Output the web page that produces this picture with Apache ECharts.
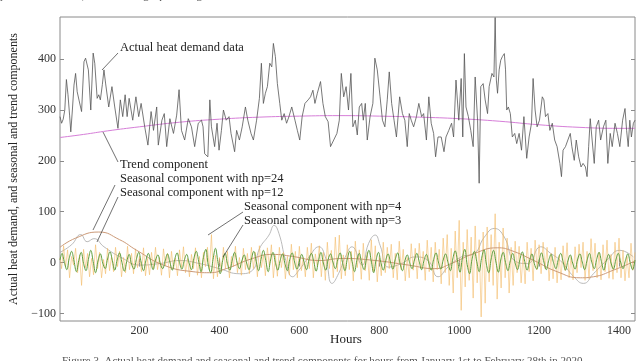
<!DOCTYPE html>
<html>
<head>
<meta charset="utf-8">
<script src="https://cdn.jsdelivr.net/npm/echarts@6/dist/echarts.min.js"></script>
<style>
  html, body { margin: 0; padding: 0; background: #fff; }
  #chart { width: 640px; height: 361px; }
</style>
</head>
<body>
<div id="chart"></div>
<script>
// ticks
var xTicks = [200, 400, 600, 800, 1000, 1200, 1400];
var yTicks = [-100, 0, 100, 200, 300, 400];

// actual heat demand (hour, value)
var demandHours = [1,5,9,13,17,21,25,28,32,36,40,44,49,55,61,65,72,78,84,88,94,98,102,107,111,115,123,131,138,146,152,158,164,169,174,183,191,198,204,213,221,229,235,243,247,256,262,268,276,285,293,299,305,313,322,330,338,347,355,359,363,371,376,380,388,394,399,405,410,417,424,429,438,443,450,457,465,471,479,485,493,500,505,510,515,520,526,531,535,540,545,551,556,562,568,574,581,589,595,601,607,614,622,628,634,639,645,653,659,665,672,678,686,694,700,705,711,717,723,729,734,740,745,750,756,760,765,770,777,784,789,795,802,808,814,820,825,831,837,843,851,858,864,870,875,880,886,893,899,906,911,918,924,930,936,941,947,955,962,967,974,981,986,992,999,1005,1009,1013,1017,1023,1029,1035,1040,1046,1050,1054,1060,1065,1071,1075,1082,1087,1090,1093,1096,1100,1104,1108,1113,1116,1119,1123,1128,1133,1139,1144,1150,1156,1162,1169,1175,1181,1185,1190,1195,1201,1208,1212,1216,1222,1227,1233,1239,1245,1252,1256,1260,1266,1272,1278,1282,1288,1293,1299,1305,1310,1316,1320,1324,1328,1332,1338,1343,1349,1354,1361,1367,1372,1378,1383,1390,1396,1402,1409,1415,1419,1423,1427,1431,1436,1440];
var demandValues = [287,274,282,300,360,330,290,257,300,349,372,336,318,297,395,402,379,300,412,392,323,330,320,350,379,353,306,346,306,264,320,287,330,287,323,280,326,287,313,267,231,297,260,306,231,280,293,228,283,254,290,340,260,241,283,267,228,274,280,267,214,208,320,267,228,274,221,260,300,280,287,254,218,260,241,267,306,280,254,241,280,323,392,313,333,346,392,385,431,405,352,313,280,293,274,287,306,280,260,241,287,313,320,326,339,313,333,356,313,287,277,228,241,254,280,372,326,346,300,372,267,280,251,306,313,280,313,241,287,313,402,379,326,280,267,320,375,313,280,247,326,293,280,228,293,280,267,287,313,287,293,241,326,274,254,208,247,247,218,247,260,274,247,359,280,362,247,411,306,287,260,228,365,280,156,346,352,320,293,346,372,365,482,359,333,379,398,405,411,379,300,306,293,247,254,234,254,221,287,205,247,274,362,300,267,280,326,320,287,293,260,274,241,228,195,169,221,228,241,254,228,201,241,208,188,195,188,169,228,283,247,195,267,280,241,267,280,195,254,228,274,254,228,280,303,260,228,280,247,274,280];

// trend component
var trendHours = [1,60,120,200,300,400,500,600,700,800,900,1000,1100,1200,1300,1400,1440];
var trendValues = [246,252,259,267,276,282,286,288,289,288,286,283,278,271,266,264,264];

// seasonal np=24
var np24Hours = [1,40,98,150,193,260,334,375,417,483,533,583,649,707,790,873,939,980,1038,1096,1129,1187,1245,1303,1336,1386,1440];
var np24Values = [30,48,60,45,24,-5,-18,-20,-12,8,16,12,4,8,4,-5,-12,-2,18,29,24,4,-18,-30,-28,-15,3];

// seasonal np=12
var np12Hours = [1,30,53,69,86,111,152,202,251,301,350,400,450,483,500,524,537,549,566,583,599,624,649,665,682,698,715,732,757,773,790,802,823,856,889,922,947,972,1005,1038,1063,1088,1113,1138,1171,1204,1229,1253,1287,1311,1336,1369,1402,1436];
var np12Values = [20,35,55,41,47,31,11,-5,-2,4,-2,-12,-22,-15,27,54,73,57,4,-28,-15,11,31,11,-41,-22,11,31,-5,37,54,34,-9,-2,11,4,-28,-9,11,18,50,67,50,4,-2,31,18,4,-28,-41,-22,4,24,11];

// seasonal np=4, every 5 hours from 0
var np4Step = 5;
var np4Values = [
  10,-12,33,-8,25,-30,12,-5,28,-20,15,-45,
  26,-10,18,-28,8,-24,35,-12,20,-30,6,-22,
  28,-16,12,-18,30,-8,22,-28,10,-20,32,-14,
  18,-22,27,-10,12,-18,29,-26,8,-24,20,-12,
  30,-14,10,-25,27,-6,18,-30,22,-12,9,-26,
  25,-10,31,-20,8,-28,16,-12,29,-25,12,-30,
  20,-8,30,-14,55,-32,14,-28,10,-18,30,-12,
  22,-30,12,-8,32,-20,10,-25,28,-14,18,-22,
  30,-12,20,-28,33,-10,15,-26,29,-8,35,-30,
  14,-27,30,-10,20,-32,12,-25,36,-14,22,-30,
  32,-16,10,-28,30,-12,38,-30,17,-8,33,-28,
  20,-35,40,-12,24,-30,50,-18,54,-32,15,-26,
  35,-14,22,-36,42,-10,25,-33,38,-16,20,-35,
  45,-18,33,-38,12,-26,40,-20,30,-12,36,-30,
  18,-34,42,-14,26,-36,10,-30,37,-15,28,-32,
  38,-12,22,-35,44,-18,30,-38,40,-14,26,-42,
  48,-20,55,-45,28,-60,62,-30,83,-94,40,-48,
  65,-35,50,-70,72,-40,45,-107,60,-80,70,-38,
  55,-45,96,-72,40,-50,68,-30,48,-60,30,-45,
  42,-20,32,-40,16,-42,40,-18,28,-36,44,-14,
  35,-22,40,-12,30,-36,18,-32,30,-40,14,-34,
  33,-16,39,-30,12,-34,31,-20,36,-10,40,-35,
  22,-32,47,-16,38,-30,20,-34,35,-18,44,-31,
  16,-33,40,-20,48,-30,24,-36,12,-30,38,-15,
  20
];

// seasonal np=3, every 6 hours from 0
var np3Step = 6;
var np3Values = [
  5,18,0,-14, 8,22,3,-18, 4,20,-2,-16, 6,24,2,-20, 3,17,-1,-12,
  7,21,4,-15, 5,19,0,-17, 2,16,-3,-13, 6,20,1,-16, 4,18,2,-14,
  5,15,-2,-12, 3,17,1,-15, 6,19,0,-13, 4,16,-1,-14, 8,22,3,-18,
  10,26,-5,-20, 6,28,2,-22, 4,18,-2,-15, 5,20,1,-12, 3,15,-1,-14,
  7,22,2,-16, 6,24,4,-18, 5,20,0,-15, 4,17,-2,-16, 6,19,1,-13,
  3,16,0,-14, 5,18,2,-17, 4,20,-1,-15, 6,17,1,-12, 5,19,0,-16,
  7,22,2,-18, 4,18,-1,-14, 8,24,3,-20, 5,20,0,-15, 4,17,1,-13,
  6,19,-2,-16, 3,15,0,-12, 5,18,2,-14, 4,16,-1,-15, 6,19,1,-13,
  5,17,0,-16, 7,23,3,-19, 9,26,-4,-22, 6,22,2,-18, 8,25,-3,-20,
  7,24,1,-19, 5,20,0,-16, 4,18,-1,-14, 6,21,2,-15, 3,17,-2,-13,
  5,19,1,-14, 4,16,0,-12, 6,18,2,-15, 3,15,-1,-13, 5,17,1,-14,
  4,18,0,-12, 6,20,2,-15, 3,16,-1,-13, 5,18,1,-12, 4,17,0,-14,
  5
];

function pairs(xs, ys) {
    return xs.map(function (x, i) { return [x, ys[i]]; });
}
function stepped(step, ys) {
    return ys.map(function (y, i) { return [Math.max(1, i * step), y]; });
}

var serif = '"Liberation Serif", "DejaVu Serif", serif';
var axisGray = '#8a8a8a';

function leader(x1, y1, x2, y2) {
    return { type: 'line', shape: { x1: x1, y1: y1, x2: x2, y2: y2 },
             style: { stroke: '#333', lineWidth: 0.7 }, z: 100 };
}
function label(x, y, txt) {
    return { type: 'text', left: x, top: y,
             style: { text: txt, fill: '#222', font: '12.5px ' + serif }, z: 100 };
}

var chart = echarts.init(document.getElementById('chart'));
var option = {
    animation: false,
    backgroundColor: '#fff',
    grid: { left: 57, right: 5, top: 17, bottom: 40, show: true, borderColor: axisGray, borderWidth: 1 },
    xAxis: [{
        type: 'value', min: 1, max: 1440,
        axisLine: { show: false },
        splitLine: { show: false },
        axisTick: { inside: true, length: 4, customValues: xTicks, lineStyle: { color: axisGray } },
        axisLabel: { customValues: xTicks, fontFamily: serif, fontSize: 12, color: '#333', margin: 4,
                     formatter: function (v) { return String(v); } }
    }, {
        type: 'value', min: 1, max: 1440, position: 'top',
        axisLine: { show: false }, splitLine: { show: false },
        axisTick: { inside: true, length: 4, customValues: xTicks, lineStyle: { color: axisGray } },
        axisLabel: { show: false }
    }],
    yAxis: [{
        type: 'value', min: -115, max: 483,
        name: 'Actual heat demand, and seasonal and trend components',
        nameLocation: 'middle', nameGap: 40,
        nameTextStyle: { fontFamily: serif, fontSize: 12, color: '#222' },
        axisLine: { show: false }, splitLine: { show: false },
        axisTick: { inside: true, length: 4, customValues: yTicks, lineStyle: { color: axisGray } },
        axisLabel: { customValues: yTicks, fontFamily: serif, fontSize: 12, color: '#333', margin: 4,
                     formatter: function (v) { return v < 0 ? '\u2212' + Math.abs(v) : String(v); } }
    }, {
        type: 'value', min: -115, max: 483, position: 'right',
        axisLine: { show: false }, splitLine: { show: false },
        axisTick: { inside: true, length: 4, customValues: yTicks, lineStyle: { color: axisGray } },
        axisLabel: { show: false }
    }],
    series: [
        { name: 'np=12', type: 'line', smooth: 0.5, symbol: 'none', data: pairs(np12Hours, np12Values),
          lineStyle: { color: '#a8a8a8', width: 0.8 }, z: 2 },
        { name: 'np=4', type: 'line', symbol: 'none', data: stepped(np4Step, np4Values),
          lineStyle: { color: '#f2b860', width: 0.7, opacity: 0.8 }, z: 3 },
        { name: 'np=24', type: 'line', smooth: 0.5, symbol: 'none', data: pairs(np24Hours, np24Values),
          lineStyle: { color: '#cc9a78', width: 1 }, z: 4 },
        { name: 'np=3', type: 'line', smooth: 0.4, symbol: 'none', data: stepped(np3Step, np3Values),
          lineStyle: { color: '#5e9e3c', width: 1 }, z: 5 },
        { name: 'trend', type: 'line', smooth: 0.5, symbol: 'none', data: pairs(trendHours, trendValues),
          lineStyle: { color: '#d67ed8', width: 1 }, z: 5 },
        { name: 'actual', type: 'line', symbol: 'none', data: pairs(demandHours, demandValues),
          lineStyle: { color: '#555', width: 0.8 }, z: 6 }
    ],
    graphic: [
        label(120, 41, 'Actual heat demand data'),
        leader(118, 53, 102, 70),
        label(120, 158, 'Trend component'),
        leader(118, 162, 103, 132),
        label(120, 172, 'Seasonal component with np=24'),
        leader(115, 185, 93, 230),
        label(120, 186, 'Seasonal component with np=12'),
        leader(118, 197, 97, 242),
        label(244, 200, 'Seasonal component with np=4'),
        leader(243, 212, 208, 235),
        label(244, 214, 'Seasonal component with np=3'),
        leader(243, 225, 223, 257),
        { type: 'text', style: { text: 'Hours', x: 346, y: 333, align: 'center', verticalAlign: 'top',
                                 fill: '#222', font: '13px ' + serif } },
        { type: 'text', left: 0, top: -9, style: { text: 'prediction  models,  mean  average  percentage  error', fill: '#555', font: '11px ' + serif } },
        { type: 'text', left: 62, top: 356, style: { text: 'Figure 3  Actual heat demand and seasonal and trend components for hours from January 1st to February 28th in 2020', fill: '#555', font: '11px ' + serif } }
    ]
};
chart.setOption(option);
</script>
</body>
</html>
